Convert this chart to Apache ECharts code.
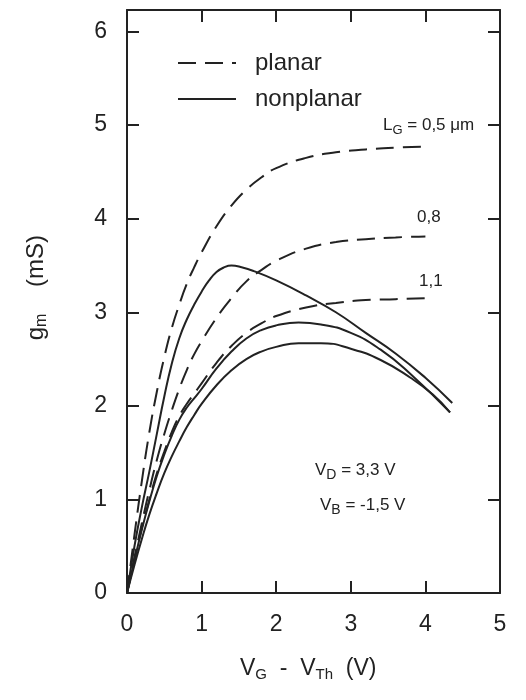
<!DOCTYPE html>
<html>
<head>
<meta charset="utf-8">
<style>
  html, body { margin: 0; padding: 0; background: #fff; }
  #chart-container { width: 526px; height: 700px; }
</style>
<script src="https://cdn.jsdelivr.net/npm/echarts@6/dist/echarts.min.js"></script>
</head>
<body>
<div id="chart-container"></div>
<script>
// planar, L_G = 0.5 um
const xP05 = [0, 0.1, 0.2, 0.3, 0.4, 0.5, 0.6, 0.7, 0.8, 0.9, 1.0, 1.2, 1.4, 1.6, 1.8, 2.0, 2.4, 2.8, 3.2, 3.6, 4.0];
const yP05 = [0, 0.62, 1.2, 1.72, 2.15, 2.52, 2.83, 3.08, 3.3, 3.48, 3.64, 3.92, 4.14, 4.31, 4.44, 4.54, 4.65, 4.71, 4.74, 4.76, 4.77];
// planar, L_G = 0.8 um
const xP08 = [0, 0.1, 0.2, 0.3, 0.4, 0.5, 0.6, 0.7, 0.8, 0.9, 1.0, 1.2, 1.4, 1.6, 1.8, 2.0, 2.4, 2.8, 3.2, 3.6, 4.0];
const yP08 = [0, 0.38, 0.75, 1.1, 1.42, 1.7, 1.95, 2.18, 2.38, 2.55, 2.69, 2.94, 3.15, 3.33, 3.45, 3.55, 3.68, 3.75, 3.78, 3.8, 3.81];
// planar, L_G = 1.1 um
const xP11 = [0, 0.1, 0.2, 0.3, 0.4, 0.5, 0.6, 0.7, 0.8, 0.9, 1.0, 1.2, 1.4, 1.6, 1.8, 2.0, 2.4, 2.8, 3.2, 3.6, 4.0];
const yP11 = [0, 0.36, 0.7, 1.0, 1.28, 1.51, 1.72, 1.89, 2.02, 2.13, 2.24, 2.46, 2.64, 2.78, 2.88, 2.96, 3.05, 3.1, 3.13, 3.14, 3.15];
// nonplanar, L_G = 0.5 um
const xN05 = [0, 0.1, 0.2, 0.3, 0.4, 0.5, 0.6, 0.7, 0.8, 0.9, 1.0, 1.1, 1.2, 1.3, 1.4, 1.5, 1.7, 2.0, 2.4, 2.8, 3.2, 3.6, 4.0, 4.36];
const yN05 = [0, 0.5, 0.92, 1.3, 1.7, 2.1, 2.45, 2.72, 2.92, 3.08, 3.22, 3.34, 3.43, 3.48, 3.5, 3.49, 3.44, 3.34, 3.18, 3.0, 2.78, 2.56, 2.3, 2.03];
// nonplanar, L_G = 0.8 um
const xN08 = [0, 0.1, 0.2, 0.3, 0.4, 0.5, 0.6, 0.7, 0.8, 0.9, 1.0, 1.2, 1.4, 1.6, 1.8, 2.0, 2.3, 2.6, 3.0, 3.4, 3.8, 4.33];
const yN08 = [0, 0.35, 0.68, 0.98, 1.25, 1.48, 1.68, 1.85, 1.98, 2.08, 2.18, 2.4, 2.58, 2.72, 2.81, 2.86, 2.89, 2.87, 2.78, 2.6, 2.34, 1.93];
// nonplanar, L_G = 1.1 um
const xN11 = [0, 0.1, 0.2, 0.3, 0.4, 0.5, 0.6, 0.7, 0.8, 0.9, 1.0, 1.2, 1.4, 1.6, 1.8, 2.0, 2.3, 2.6, 3.0, 3.4, 3.8, 4.1, 4.33];
const yN11 = [0, 0.3, 0.58, 0.84, 1.07, 1.28, 1.46, 1.62, 1.77, 1.9, 2.02, 2.22, 2.38, 2.5, 2.58, 2.63, 2.67, 2.67, 2.61, 2.49, 2.3, 2.12, 1.93];

const xTicks = [0, 1, 2, 3, 4, 5];
const yTicks = [0, 1, 2, 3, 4, 5, 6];

const zip = (xs, ys) => xs.map((x, i) => [x, ys[i]]);
const ink = '#222';
const font = 'Liberation Sans';

const chart = echarts.init(document.getElementById('chart-container'));

function curve(name, xs, ys, dashed) {
  return {
    name: name,
    type: 'line',
    data: zip(xs, ys),
    smooth: 0.5,
    symbol: 'none',
    silent: true,
    lineStyle: { color: ink, width: 2, type: dashed ? [18, 9] : 'solid' },
    itemStyle: { color: ink }
  };
}

const axisBase = {
  type: 'value',
  splitLine: { show: false },
  axisLine: { show: true, onZero: false, lineStyle: { color: ink, width: 2 } },
  axisTick: { show: true, inside: true, length: 12, lineStyle: { color: ink, width: 2 } }
};

// rich style for subscripts
const sub = (size, drop) => ({ fontSize: size, padding: [drop, 0, 0, 0], verticalAlign: 'bottom', fontFamily: font, fill: ink });

const option = {
  animation: false,
  backgroundColor: '#fff',
  grid: { left: 127, right: 26, top: 10, bottom: 107 },
  legend: {
    data: ['planar', 'nonplanar'],
    orient: 'vertical',
    left: 172,
    top: 46,
    itemWidth: 58,
    itemHeight: 14,
    itemGap: 12,
    itemStyle: { opacity: 0 },
    textStyle: { fontFamily: font, fontSize: 24, color: ink, padding: [0, 0, 0, 14] }
  },
  xAxis: [
    Object.assign({}, axisBase, {
      min: 0, max: 5, interval: 1, position: 'bottom',
      axisLabel: {
        margin: 20, fontFamily: font, fontSize: 23, color: ink,
        formatter: v => xTicks.includes(v) ? String(v) : ''
      }
    }),
    Object.assign({}, axisBase, {
      min: 0, max: 5, interval: 1, position: 'top',
      axisLabel: { show: false }
    })
  ],
  yAxis: [
    Object.assign({}, axisBase, {
      min: 0, max: 6.23, interval: 1, position: 'left',
      axisLabel: {
        margin: 20, fontFamily: font, fontSize: 23, color: ink,
        formatter: v => yTicks.includes(v) ? String(v) : ''
      }
    }),
    Object.assign({}, axisBase, {
      min: 0, max: 6.23, interval: 1, position: 'right',
      axisLabel: { show: false }
    })
  ],
  graphic: [
    {
      type: 'text', left: 24, top: 235, rotation: Math.PI / 2,
      style: {
        text: 'g{s|m}    (mS)',
        font: '24px "Liberation Sans"', fill: ink,
        rich: { s: sub(16, 12) }
      }
    },
    {
      type: 'text', left: 240, top: 657,
      style: {
        text: 'V{s|G}  -  V{s|Th}  (V)',
        font: '23px "Liberation Sans"', fill: ink,
        rich: { s: sub(15, 12) }
      }
    },
    {
      type: 'text', left: 383, top: 117,
      style: {
        text: 'L{s|G} = 0,5 μm',
        font: '17px "Liberation Sans"', fill: ink,
        rich: { s: sub(13, 10) }
      }
    },
    { type: 'text', left: 417, top: 209, style: { text: '0,8', font: '17px "Liberation Sans"', fill: ink } },
    { type: 'text', left: 419, top: 273, style: { text: '1,1', font: '17px "Liberation Sans"', fill: ink } },
    {
      type: 'text', left: 315, top: 462,
      style: {
        text: 'V{s|D} = 3,3 V',
        font: '17px "Liberation Sans"', fill: ink,
        rich: { s: sub(14, 10) }
      }
    },
    {
      type: 'text', left: 320, top: 497,
      style: {
        text: 'V{s|B} = -1,5 V',
        font: '17px "Liberation Sans"', fill: ink,
        rich: { s: sub(14, 10) }
      }
    }
  ],
  series: [
    curve('planar', xP05, yP05, true),
    curve('planar', xP08, yP08, true),
    curve('planar', xP11, yP11, true),
    curve('nonplanar', xN05, yN05, false),
    curve('nonplanar', xN08, yN08, false),
    curve('nonplanar', xN11, yN11, false)
  ]
};

chart.setOption(option);
</script>
</body>
</html>
